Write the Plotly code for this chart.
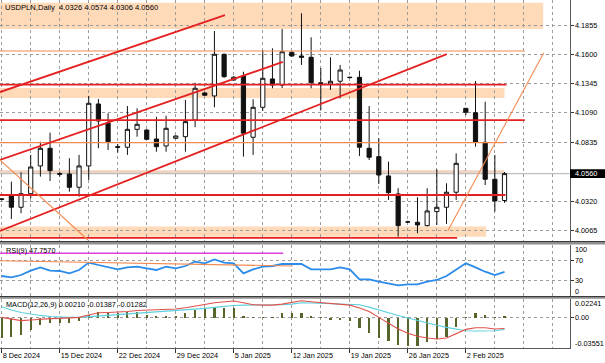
import plotly.graph_objects as go

# ---------------- data ----------------
bar_index = list(range(53))
open_ = [4.0340, 4.0368, 4.0267, 4.0385, 4.0627, 4.0781, 4.0553, 4.0557, 4.0441, 4.0627,
         4.1167, 4.0999, 4.0795, 4.0790, 4.0946, 4.0940, 4.0862, 4.0801, 4.0868, 4.0882,
         4.1027, 4.1263, 4.1237, 4.1600, 4.1376, 4.1411, 4.0877, 4.1138, 4.1385, 4.1332,
         4.1617, 4.1585, 4.1574, 4.1352, 4.1341, 4.1365, 4.1400, 4.1399, 4.0781, 4.0708,
         4.0540, 4.0383, 4.0138, 4.0136, 4.0107, 4.0229, 4.0267, 4.0398, 4.1129, 4.1091,
         4.0833, 4.0511, 4.0326]
high_ = [4.0346, 4.0490, 4.0572, 4.0723, 4.0838, 4.0917, 4.0575, 4.0694, 4.0723, 4.1237,
         4.1210, 4.1086, 4.0818, 4.1149, 4.1129, 4.0945, 4.1056, 4.1065, 4.0892, 4.1202,
         4.1352, 4.1270, 4.1803, 4.1605, 4.1410, 4.1448, 4.1208, 4.1637, 4.1652, 4.1820,
         4.1625, 4.1957, 4.1748, 4.1480, 4.1574, 4.1507, 4.1405, 4.1457, 4.1149, 4.0868,
         4.0664, 4.0433, 4.0150, 4.0354, 4.0433, 4.0598, 4.0476, 4.0737, 4.1132, 4.1367,
         4.1187, 4.0723, 4.0574]
low_ = [4.0328, 4.0165, 4.0215, 4.0345, 4.0534, 4.0496, 4.0535, 4.0403, 4.0359, 4.0505,
        4.0781, 4.0766, 4.0743, 4.0723, 4.0882, 4.0855, 4.0751, 4.0751, 4.0862, 4.0751,
        4.0964, 4.1238, 4.1138, 4.1395, 4.1370, 4.0708, 4.0723, 4.1108, 4.1304, 4.1306,
        4.1580, 4.1507, 4.1304, 4.1115, 4.1289, 4.1216, 4.1392, 4.0714, 4.0679, 4.0470,
        4.0331, 4.0011, 4.0130, 4.0041, 4.0100, 4.0113, 4.0122, 4.0331, 4.1071, 4.0795,
        4.0461, 4.0229, 4.0306]
close_ = [4.0336, 4.0267, 4.0385, 4.0618, 4.0781, 4.0586, 4.0560, 4.0441, 4.0627, 4.1173,
          4.1019, 4.0838, 4.0790, 4.0946, 4.0990, 4.0859, 4.0795, 4.0955, 4.0888, 4.1013,
          4.1304, 4.1243, 4.1600, 4.1405, 4.1400, 4.0912, 4.1138, 4.1391, 4.1332, 4.1622,
          4.1585, 4.1574, 4.1352, 4.1345, 4.1365, 4.1463, 4.1397, 4.0790, 4.0703, 4.0548,
          4.0394, 4.0107, 4.0139, 4.0113, 4.0235, 4.0267, 4.0398, 4.0650, 4.1095, 4.0833,
          4.0511, 4.0322, 4.0560]

date_tick_bars = [0, 6, 12, 18, 24, 30, 36, 42, 48]
date_tick_labels = ["8 Dec 2024", "15 Dec 2024", "22 Dec 2024", "29 Dec 2024", "5 Jan 2025",
                    "12 Jan 2025", "19 Jan 2025", "26 Jan 2025", "2 Feb 2025"]
grid_bars = list(range(0, 58, 3))

price_ticks = [4.1855, 4.1600, 4.1345, 4.1090, 4.0835, 4.0320, 4.0065]
price_tick_labels = ["4.1855", "4.1600", "4.1345", "4.1090", "4.0835", "4.0320", "4.0065"]
bid_price = 4.0560
title_text = "USDPLN,Daily  4.0326 4.0574 4.0306 4.0560"

# chart objects (price levels / trend lines), in bar-index and price units
red_levels = [4.1335, 4.1027, 4.0374, 4.0000]
red_level_ends = [52.2, 54.1, 52.1, 47.1]
orange_levels = [4.1628, 4.0830]
orange_level_ends = [54.1, 52.0]
zone_low = [4.1820, 4.1219, 4.0010, 4.0558]
zone_high = [4.2050, 4.1306, 4.0100, 4.0590]
zone_end = [56.0, 52.0, 50.1, 52.0]
red_trend_start = [(-0.18, 4.1271), (-0.18, 4.0679), (-0.18, 4.0061)]
red_trend_end = [(23.09, 4.1942), (29.08, 4.1533), (46.03, 4.1602)]
orange_trend_start = [(-0.18, 4.0679), (46.14, 4.0063)]
orange_trend_end = [(8.92, 3.9982), (56.06, 4.1614)]

rsi_values = [39.4, 36.7, 41.4, 50.0, 56.7, 50.0, 49.4, 44.7, 51.4, 66.1,
              61.4, 56.7, 52.7, 56.7, 58.1, 54.7, 51.4, 58.1, 54.7, 59.4,
              68.1, 64.7, 72.7, 66.1, 64.7, 44.7, 52.7, 58.1, 59.4, 63.4,
              63.4, 63.4, 52.7, 52.7, 52.7, 56.7, 52.7, 32.7, 32.7, 28.0,
              24.7, 20.7, 22.7, 22.7, 28.0, 31.4, 39.4, 51.4, 64.7, 56.7,
              48.0, 41.4, 47.757]
rsi_title = "RSI(9) 47.7570"
rsi_levels = [30, 70]
rsi_magenta_level = 84.8
rsi_magenta_end = 29.1
rsi_trend = [(-0.18, 70.0), (30.1, 59.4)]

macd_hist = [-0.0244, -0.0232, -0.0204, -0.0145, -0.0086, -0.0066, -0.0059, -0.0066, -0.0039, 0.0030,
             0.0071, 0.0059, 0.0051, 0.0063, 0.0071, 0.0031, 0.0020, 0.0024, 0.0020, 0.0051,
             0.0090, 0.0098, 0.0122, 0.0118, 0.0110, 0.0020, 0.0005, 0.0012, 0.0005, 0.0051,
             0.0051, 0.0051, 0.0020, 0.0003, -0.0028, -0.0028, -0.0040, -0.0126, -0.0177, -0.0236,
             -0.0272, -0.0327, -0.0335, -0.0335, -0.0283, -0.0252, -0.0224, -0.0106, 0.0003, 0.0059,
             0.0030, 0.0003, 0.0021]
macd_main = [0.0004, -0.0019, -0.0035, -0.0027, -0.0015, -0.0011, -0.0008, -0.0004, 0.0004, 0.0031,
             0.0058, 0.0062, 0.0066, 0.0074, 0.0086, 0.0090, 0.0090, 0.0094, 0.0102, 0.0118,
             0.0141, 0.0157, 0.0177, 0.0189, 0.0197, 0.0177, 0.0153, 0.0149, 0.0149, 0.0161,
             0.0177, 0.0201, 0.0189, 0.0177, 0.0165, 0.0157, 0.0149, 0.0114, 0.0074, 0.0004,
             -0.0067, -0.0134, -0.0185, -0.0220, -0.0240, -0.0252, -0.0240, -0.0193, -0.0138, -0.0118,
             -0.0118, -0.0134, -0.01282]
macd_signal = [0.0130, 0.0090, 0.0062, 0.0043, 0.0027, 0.0015, 0.0007, 0.0004, 0.0004, 0.0012,
               0.0020, 0.0027, 0.0031, 0.0039, 0.0047, 0.0055, 0.0062, 0.0070, 0.0078, 0.0086,
               0.0098, 0.0110, 0.0122, 0.0134, 0.0145, 0.0149, 0.0149, 0.0149, 0.0149, 0.0153,
               0.0161, 0.0177, 0.0173, 0.0169, 0.0169, 0.0169, 0.0165, 0.0153, 0.0125, 0.0090,
               0.0058, 0.0027, -0.0004, -0.0035, -0.0063, -0.0090, -0.0114, -0.0138, -0.0154, -0.0158,
               -0.0158, -0.0154, -0.01387]
macd_title = "MACD(12,26,9) 0.00210 -0.01387 -0.01282"
macd_top_label, macd_bottom_label = 0.02241, -0.03551

# ---------------- geometry / style ----------------
W, H = 605, 363
PLOT_R = 569.5
XD = PLOT_R / W
def py(px):
    return 1 - px / H

X_RANGE = [-0.176, 58.72]
MAIN_RANGE = [3.9973, 4.2073]
RSI_RANGE = [-0.6, 102.4]
MACD_RANGE = [-0.03617, 0.02246]
PX_PER_PRICE = 1148.0

FONT = "Liberation Sans, Arial, sans-serif"
FS = 7.3
GRID = "#9C9C9C"
PEACH = "#FFDAB9"
RED = "#E42020"
ORANGE = "#F38A52"
BORDER = "#5A5A5A"

fig = go.Figure()

fig.add_trace(go.Candlestick(
    x=bar_index, open=open_, high=high_, low=low_, close=close_,
    increasing=dict(fillcolor="white", line=dict(color="#111111", width=1)),
    decreasing=dict(fillcolor="#111111", line=dict(color="#111111", width=1)),
    whiskerwidth=0, xaxis="x", yaxis="y", hoverinfo="skip"))

fig.add_trace(go.Scatter(x=bar_index, y=rsi_values, mode="lines",
                         line=dict(color="#2A8BEA", width=1.8),
                         xaxis="x2", yaxis="y2", hoverinfo="skip"))

fig.add_trace(go.Bar(x=bar_index, y=macd_hist, width=0.22,
                     marker=dict(color="#56652A", line=dict(width=0)),
                     xaxis="x3", yaxis="y3", hoverinfo="skip"))
fig.add_trace(go.Scatter(x=bar_index, y=macd_signal, mode="lines",
                         line=dict(color="#5AD0E0", width=1.1),
                         xaxis="x3", yaxis="y3", hoverinfo="skip"))
fig.add_trace(go.Scatter(x=bar_index, y=macd_main, mode="lines",
                         line=dict(color="#E0504A", width=1.1),
                         xaxis="x3", yaxis="y3", hoverinfo="skip"))

shapes = []
# zones (background)
for lo, hi, end in zip(zone_low, zone_high, zone_end):
    col = PEACH if lo != zone_low[3] else "#EFD3C0"
    shapes.append(dict(type="rect", xref="x", yref="y", x0=-1, x1=end, y0=lo, y1=hi,
                       fillcolor=col, line=dict(width=0), layer="below"))
# bid line
shapes.append(dict(type="line", xref="x", yref="y", x0=-1, x1=X_RANGE[1] + 1,
                   y0=bid_price, y1=bid_price, line=dict(color="#BEBEBE", width=1.2), layer="below"))
# horizontal levels
for lv, end in zip(red_levels, red_level_ends):
    shapes.append(dict(type="line", xref="x", yref="y", x0=-1, x1=end, y0=lv, y1=lv,
                       line=dict(color=RED, width=1.8), layer="above"))
for lv, end in zip(orange_levels, orange_level_ends):
    shapes.append(dict(type="line", xref="x", yref="y", x0=-1, x1=end, y0=lv, y1=lv,
                       line=dict(color=ORANGE, width=1.1), layer="above"))
# trend lines
for (a, b), (c, d) in zip(red_trend_start, red_trend_end):
    shapes.append(dict(type="line", xref="x", yref="y", x0=a, y0=b, x1=c, y1=d,
                       line=dict(color=RED, width=1.8), layer="above"))
for (a, b), (c, d) in zip(orange_trend_start, orange_trend_end):
    shapes.append(dict(type="line", xref="x", yref="y", x0=a, y0=b, x1=c, y1=d,
                       line=dict(color=ORANGE, width=1.1), layer="above"))
# RSI objects
shapes.append(dict(type="line", xref="x2", yref="y2", x0=-1, x1=rsi_magenta_end,
                   y0=rsi_magenta_level, y1=rsi_magenta_level,
                   line=dict(color="#E03CE0", width=1.6), layer="above"))
shapes.append(dict(type="line", xref="x2", yref="y2", x0=rsi_trend[0][0], y0=rsi_trend[0][1],
                   x1=rsi_trend[1][0], y1=rsi_trend[1][1],
                   line=dict(color=ORANGE, width=1.1), layer="above"))
# pane separators
for top, bot in [(241.0, 244.5), (296.0, 298.7)]:
    shapes.append(dict(type="rect", xref="paper", yref="paper", x0=0, x1=1,
                       y0=py(bot), y1=py(top), fillcolor="#8E8E8E",
                       line=dict(width=0), layer="above"))
    shapes.append(dict(type="line", xref="paper", yref="paper", x0=0, x1=1,
                       y0=py(top + 0.5), y1=py(top + 0.5),
                       line=dict(color="#3A3A3A", width=1), layer="above"))
# bid label box
shapes.append(dict(type="rect", xref="paper", yref="y", x0=570 / W, x1=1,
                   y0=bid_price - 4.3 / PX_PER_PRICE, y1=bid_price + 4.3 / PX_PER_PRICE,
                   fillcolor="black", line=dict(width=0), layer="above"))

annotations = [
    dict(text=title_text, xref="paper", yref="paper", x=3 / W, y=py(7.5),
         xanchor="left", yanchor="middle", showarrow=False,
         font=dict(family=FONT, size=7.6, color="black")),
    dict(text=rsi_title, xref="paper", yref="paper", x=4 / W, y=py(250.5),
         xanchor="left", yanchor="middle", showarrow=False,
         font=dict(family=FONT, size=FS, color="black")),
    dict(text=macd_title, xref="paper", yref="paper", x=4 / W, y=py(304),
         xanchor="left", yanchor="middle", showarrow=False,
         font=dict(family=FONT, size=FS, color="black")),
    dict(text=f"{bid_price:.4f}", xref="paper", yref="y", x=573 / W, y=bid_price,
         xanchor="left", yanchor="middle", showarrow=False,
         font=dict(family=FONT, size=FS, color="white")),
    dict(text="100", xref="paper", yref="paper", x=573 / W, y=py(249.3),
         xanchor="left", yanchor="middle", showarrow=False,
         font=dict(family=FONT, size=FS, color="black")),
    dict(text="0", xref="paper", yref="paper", x=573 / W, y=py(291.7),
         xanchor="left", yanchor="middle", showarrow=False,
         font=dict(family=FONT, size=FS, color="black")),
    dict(text=f"{macd_top_label:.5f}", xref="paper", yref="paper", x=573 / W, y=py(303.3),
         xanchor="left", yanchor="middle", showarrow=False,
         font=dict(family=FONT, size=FS, color="black")),
    dict(text=f"{macd_bottom_label:.5f}", xref="paper", yref="paper", x=573 / W, y=py(343.3),
         xanchor="left", yanchor="middle", showarrow=False,
         font=dict(family=FONT, size=FS, color="black")),
]

xcommon = dict(range=X_RANGE, domain=[0, XD], showgrid=True, gridcolor=GRID, griddash="dot",
               gridwidth=1, tickvals=date_tick_bars, zeroline=False,
               minor=dict(tickvals=grid_bars, showgrid=True, gridcolor=GRID, griddash="dot",
                          gridwidth=1, ticks=""),
               showline=True, linecolor=BORDER, linewidth=1, fixedrange=True)
ycommon = dict(side="right", showgrid=True, gridcolor=GRID, griddash="dot", gridwidth=1,
               zeroline=False, showline=True, linecolor=BORDER, linewidth=1, mirror=True,
               ticks="outside", ticklen=3, tickcolor="#333333",
               tickfont=dict(family=FONT, size=FS, color="black"), fixedrange=True)

fig.update_layout(
    width=W, height=H, margin=dict(l=0, r=0, t=0, b=0),
    paper_bgcolor="white", plot_bgcolor="white", showlegend=False,
    boxgap=0.38, bargap=0, hovermode=False,
    xaxis=dict(**xcommon, anchor="y", showticklabels=False, ticks="",
               rangeslider=dict(visible=False)),
    xaxis2=dict(**xcommon, anchor="y2", matches="x", showticklabels=False, ticks=""),
    xaxis3=dict(**xcommon, anchor="y3", matches="x", showticklabels=True,
                ticktext=date_tick_labels, ticks="outside", ticklen=4, tickcolor="#333333",
                ticklabelposition="outside right",
                tickfont=dict(family=FONT, size=FS, color="black")),
    yaxis=dict(**ycommon, anchor="x", domain=[py(241), 1], range=MAIN_RANGE,
               tickvals=price_ticks, ticktext=price_tick_labels),
    yaxis2=dict(**ycommon, anchor="x2", domain=[py(296), py(244.5)], range=RSI_RANGE,
                tickvals=rsi_levels, ticktext=[str(v) for v in rsi_levels]),
    yaxis3=dict(**ycommon, anchor="x3", domain=[py(348.3), py(298.7)], range=MACD_RANGE,
                tickvals=[0.0], ticktext=["0.00"]),
    shapes=shapes, annotations=annotations,
)

fig.write_html("out.html", config={"displayModeBar": False, "staticPlot": True},
               post_script="document.body.style.margin='0';document.body.style.overflow='hidden';")
